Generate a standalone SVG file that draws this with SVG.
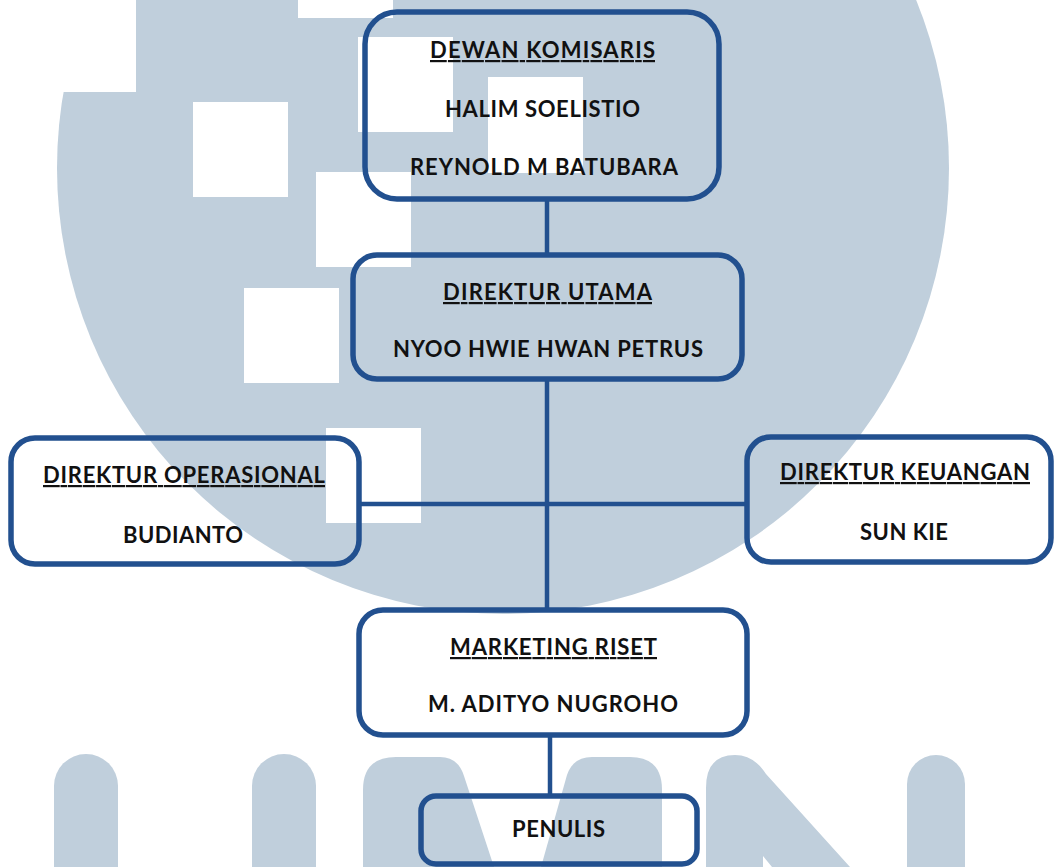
<svg xmlns="http://www.w3.org/2000/svg" width="1055" height="867" viewBox="0 0 1055 867">
<style>
.wm{fill:#C0CFDC}
.cut{fill:#FFFFFF}
.box{fill:none;stroke:#22508F;stroke-width:5.5}
.con{stroke:#22508F;stroke-width:4.5;fill:none}
.t{font-family:Lato,"Open Sans","Liberation Sans",sans-serif;font-weight:700;font-size:22px;fill:#111111;text-anchor:middle}
.u{text-decoration:underline}
</style>
<rect x="0" y="0" width="1055" height="867" fill="#FFFFFF"/>
<g id="watermark">
<circle class="wm" cx="503" cy="168" r="446"/>
<rect class="cut" x="40" y="-5" width="96" height="97"/>
<rect class="cut" x="298" y="-80" width="95" height="98"/>
<rect class="cut" x="358" y="37" width="95" height="95"/>
<rect class="cut" x="488" y="77" width="95" height="96"/>
<rect class="cut" x="193" y="102" width="95" height="95"/>
<rect class="cut" x="316" y="172" width="95" height="95"/>
<rect class="cut" x="244" y="288" width="95" height="95"/>
<rect class="cut" x="326" y="428" width="95" height="95"/>
<path class="wm" d="M54,867 V786 A32,32 0 0 1 118,786 V867 Z"/>
<path class="wm" d="M252,867 V786 A32,32 0 0 1 316,786 V867 Z"/>
<path class="wm" d="M363,867 V790 Q363,757 396,757 H440 Q458,757 464,776 L494,867 Z"/>
<path class="wm" d="M541,867 L567,775 Q573,757 592,757 H630 Q662,757 662,790 V867 Z"/>
<path class="wm" d="M706,867 V788 Q706,755 735,755 Q754,755 766,774 L850,867 H772 L763,856 V867 Z"/>
<path class="wm" d="M907,867 V784 A29,29 0 0 1 965,784 V867 Z"/>
</g>
<g id="connectors">
<line class="con" x1="547" y1="200" x2="547" y2="256"/>
<line class="con" x1="547" y1="380" x2="547" y2="612"/>
<line class="con" x1="360" y1="504" x2="748" y2="504"/>
<line class="con" x1="550" y1="735" x2="550" y2="797"/>
</g>
<g id="dewan-komisaris">
<rect class="box" x="365" y="12" width="354" height="187" rx="32"/>
<text class="t u" x="542.5" y="58" textLength="225">DEWAN KOMISARIS</text>
<text class="t" x="542.5" y="117" textLength="195">HALIM SOELISTIO</text>
<text class="t" x="544" y="175" textLength="268">REYNOLD M BATUBARA</text>
</g>
<g id="direktur-utama">
<rect class="box" x="353" y="255" width="389" height="124" rx="24"/>
<text class="t u" x="547.5" y="300" textLength="209">DIREKTUR UTAMA</text>
<text class="t" x="548" y="357" textLength="310">NYOO HWIE HWAN PETRUS</text>
</g>
<g id="direktur-operasional">
<rect class="box" x="11" y="438" width="348" height="126" rx="24"/>
<text class="t u" x="184" y="483" textLength="282">DIREKTUR OPERASIONAL</text>
<text class="t" x="183" y="543" textLength="120">BUDIANTO</text>
</g>
<g id="direktur-keuangan">
<rect class="box" x="747" y="437" width="304" height="125" rx="24"/>
<text class="t u" x="905" y="480" textLength="250">DIREKTUR KEUANGAN</text>
<text class="t" x="904" y="540" textLength="88">SUN KIE</text>
</g>
<g id="marketing-riset">
<rect class="box" x="359" y="610" width="388" height="125" rx="24"/>
<text class="t u" x="553.5" y="655" textLength="207">MARKETING RISET</text>
<text class="t" x="553" y="712" textLength="250">M. ADITYO NUGROHO</text>
</g>
<g id="penulis">
<rect class="box" x="421" y="796" width="276" height="68" rx="15"/>
<text class="t" x="558.5" y="837" textLength="93">PENULIS</text>
</g>
</svg>
